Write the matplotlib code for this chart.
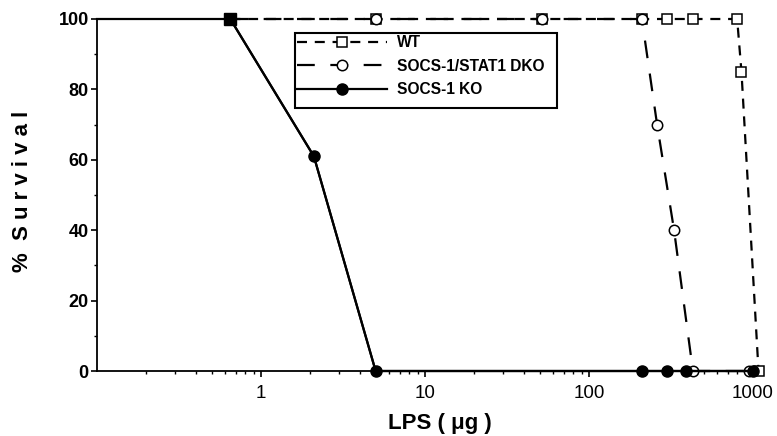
import matplotlib
matplotlib.use('Agg')
import matplotlib.pyplot as plt
from matplotlib.patches import Rectangle
from matplotlib.ticker import FixedLocator, LogLocator, NullFormatter, FuncFormatter

plt.rcParams['font.family'] = ['Liberation Sans', 'DejaVu Sans']

# LPS dose (ug) and % survival
wt_x = [0.65, 5, 52, 210, 300, 430, 800, 850, 1080]
wt_y = [100, 100, 100, 100, 100, 100, 100, 85, 0]

dko_x = [0.65, 5, 52, 210, 260, 330, 430, 950]
dko_y = [100, 100, 100, 100, 70, 40, 0, 0]

# first KO point is where the line leaves the y axis (no marker there)
ko_x = [0.1, 0.65, 2.1, 5, 210, 300, 390, 1000]
ko_y = [100, 100, 61, 0, 0, 0, 0, 0]

x_ticks = [1, 10, 100, 1000]
y_ticks = [0, 20, 40, 60, 80, 100]

fig = plt.figure(figsize=(7.77, 4.36), dpi=100)
ax = fig.add_axes([97 / 777, 1 - 371 / 436, (763 - 97) / 777, (371 - 19) / 436])

l_wt, = ax.plot(wt_x, wt_y, color='black', lw=1.6, dashes=(4.5, 3.5),
                marker='s', ms=6.5, mfc='white', mec='black', mew=1.1,
                clip_on=False, zorder=3)
l_dko, = ax.plot(dko_x, dko_y, color='black', lw=1.6, dashes=(8, 7),
                 marker='o', ms=7.5, mfc='white', mec='black', mew=1.1,
                 clip_on=False, zorder=4)
ax.plot(ko_x, ko_y, color='black', lw=1.6, clip_on=False, zorder=5)
l_ko, = ax.plot(ko_x[1:], ko_y[1:], color='black', lw=1.6, marker='o', ms=8,
                mfc='black', mec='black', clip_on=False, zorder=5)
# the first KO point is drawn as a filled square
ax.plot(ko_x[1:2], ko_y[1:2], ls='none', marker='s', ms=8.5, color='black',
        clip_on=False, zorder=6)

ax.set_xscale('log')
ax.set_xlim(0.1, 1150)
ax.set_ylim(0, 100)

ax.xaxis.set_major_locator(FixedLocator(x_ticks))
ax.xaxis.set_major_formatter(FuncFormatter(lambda v, p: '%d' % v))
ax.xaxis.set_minor_locator(LogLocator(base=10, subs=range(2, 10), numticks=20))
ax.xaxis.set_minor_formatter(NullFormatter())
ax.set_yticks(y_ticks)
ax.set_yticks([10, 30, 50, 70, 90], minor=True)

for side in ['top', 'right']:
    ax.spines[side].set_visible(False)
for side in ['left', 'bottom']:
    ax.spines[side].set_linewidth(1.3)

ax.tick_params(axis='both', which='major', direction='out', length=4, width=1.2)
ax.tick_params(axis='both', which='minor', direction='out', length=2.5, width=1.0)
ax.tick_params(axis='x', labelsize=13.5, pad=6)
ax.tick_params(axis='y', labelsize=13, pad=2)
for lab in ax.get_yticklabels():
    lab.set_fontweight('bold')

ax.set_xlabel(u'LPS ( \u03bcg )', fontsize=16, fontweight='bold')
ax.xaxis.set_label_coords((440 - 97) / 666, -(423 - 371) / 352)
ax.xaxis.label.set_va('center')
fig.text(0.029, 0.56, '%  S u r v i v a l', rotation=90, fontsize=16,
         fontweight='bold', ha='center', va='center')

# legend entries without frame; the box is drawn separately to match the original
leg = ax.legend([l_wt, l_dko, l_ko], ['WT', 'SOCS-1/STAT1 DKO', 'SOCS-1 KO'],
                loc='upper left', bbox_to_anchor=(297 / 777, 1 - 35 / 436),
                bbox_transform=fig.transFigure, frameon=False,
                handlelength=5.8, numpoints=1, borderpad=0, labelspacing=0.55,
                handletextpad=0.65, borderaxespad=0,
                prop={'weight': 'bold', 'size': 11.2})
leg.set_zorder(10)
ax.add_patch(Rectangle((295 / 777, 1 - 108 / 436), 262 / 777, 75 / 436,
                       transform=fig.transFigure, fill=False,
                       edgecolor='black', lw=1.5, clip_on=False, zorder=9))

fig.savefig('out.png', dpi=100)
